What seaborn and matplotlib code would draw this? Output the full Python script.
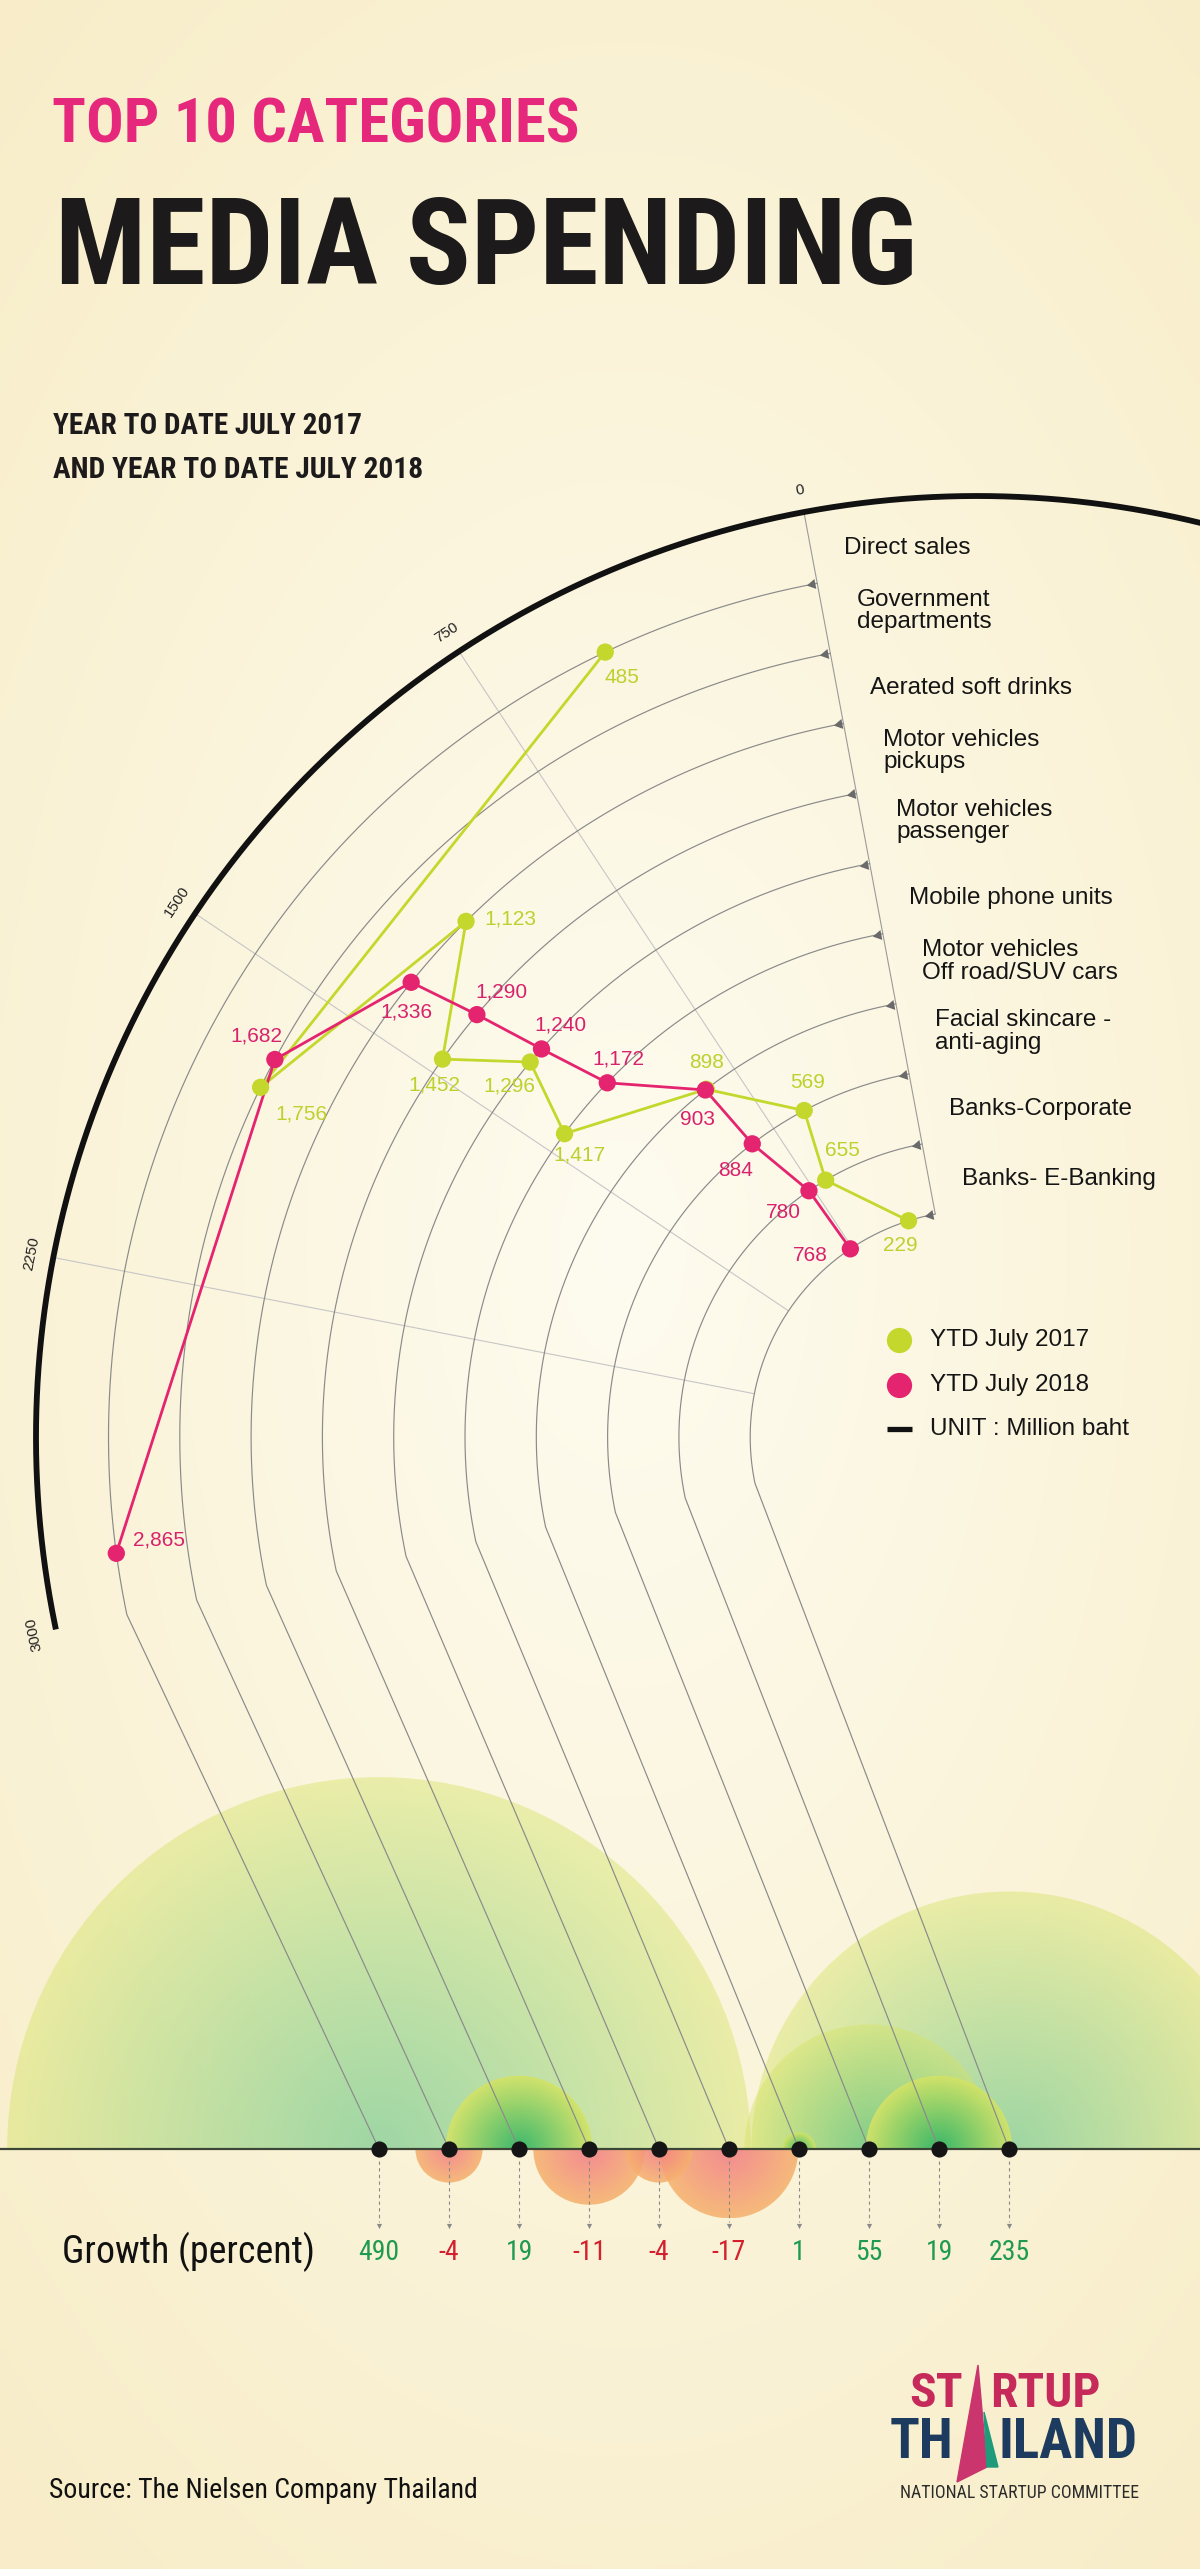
import numpy as np
import pandas as pd
import matplotlib
matplotlib.use("Agg")
import matplotlib.pyplot as plt
import seaborn as sns
from matplotlib.colors import to_rgb
from matplotlib.patches import Polygon, Wedge

# ---- data: media spending, million baht ----
categories = [
    "Direct sales",
    "Government\ndepartments",
    "Aerated soft drinks",
    "Motor vehicles\npickups",
    "Motor vehicles\npassenger",
    "Mobile phone units",
    "Motor vehicles\nOff road/SUV cars",
    "Facial skincare -\nanti-aging",
    "Banks-Corporate",
    "Banks- E-Banking",
]
ytd_2017 = [485, 1756, 1123, 1452, 1296, 1417, 898, 569, 655, 229]
ytd_2018 = [2865, 1682, 1336, 1290, 1240, 1172, 903, 884, 780, 768]
growth = [490, -4, 19, -11, -4, -17, 1, 55, 19, 235]
value_ticks = [0, 750, 1500, 2250, 3000]
series = ["YTD July 2017", "YTD July 2018"]

# ---- layout in pixels (y counted upward) ----
W, H = 1200, 2569
CX, CY = 977, H - 1437
R_OUTER, R_STEP, R_AXIS = 868.5, 71.3, 941
THETA0, THETA_SPAN, VMAX = 100.6, 91.2, 3000
BASE_Y = H - 2149
DOT_X0, DOT_STEP = 379, 70
BUBBLE_K = 16.8

GREEN, PINK = "#c4d72c", "#e5246f"
GREEN_TXT, PINK_TXT = "#bcd12e", "#d8226c"
POS_TXT, NEG_TXT = "#1f9a52", "#d3202f"

# label offsets (px, x right / y up) from each point
off_2017 = [(17, -25), (41, -27), (44, 2), (-8, -26), (-21, -24),
            (15, -21), (0, 27), (3, 28), (17, 30), (-8, -25)]
off_2018 = [(43, 13), (-18, 23), (-5, -30), (25, 23), (19, 24),
            (11, 24), (-8, -30), (-17, -27), (-26, -22), (-40, -7)]


def track_r(i):
    return R_OUTER - np.asarray(i, float) * R_STEP


def angle(v):
    return np.radians(THETA0 + THETA_SPAN * np.asarray(v, float) / VMAX)


def to_xy(v, r):
    a = angle(v)
    return CX + r * np.cos(a), CY + r * np.sin(a)


sns.set_style("white")
plt.rcParams["font.family"] = ["Liberation Sans", "DejaVu Sans"]
NARROW = ["Liberation Sans Narrow", "Roboto Condensed", "DejaVu Sans"]

fig = plt.figure(figsize=(W / 100, H / 100), dpi=100)
ax = fig.add_axes([0, 0, 1, 1])
renderer = fig.canvas.get_renderer()


def fit_width(t, width):
    w = t.get_window_extent(renderer).width
    t.set_fontsize(t.get_fontsize() * width / w)
    return t.get_fontsize()


# background: soft cream glow
gy, gx = np.mgrid[0:H:6, 0:W:6]
d = np.clip(np.hypot((gx - 620) / 950, (gy - (H - 1250)) / 1650), 0, 1)[..., None]
bg = np.array(to_rgb("#fefcf0")) * (1 - d) + np.array(to_rgb("#f8edc8")) * d
ax.imshow(bg, extent=[0, W, 0, H], origin="lower", aspect="auto", zorder=0,
          interpolation="bilinear")

# ---- titles ----
t = ax.text(52, H - 125, "TOP 10 CATEGORIES", color="#e6287c", family=NARROW,
            weight="bold", va="center", ha="left", fontsize=40)
fit_width(t, 526)
t = ax.text(55, H - 251, "MEDIA SPENDING", color="#1c1a1a", family=NARROW,
            weight="bold", va="center", ha="left", fontsize=60)
fit_width(t, 863)
t = ax.text(53, H - 426, "YEAR TO DATE JULY 2017", color="#1c1a1a", family=NARROW,
            weight="bold", va="center", ha="left", fontsize=20)
fs = fit_width(t, 308)
t = ax.text(53, H - 470, "AND YEAR TO DATE JULY 2018", color="#1c1a1a", family=NARROW,
            weight="bold", va="center", ha="left", fontsize=fs)
fit_width(t, 371)

# ---- growth bubbles (radius ~ sqrt of growth) ----
def bubble(xc, g):
    r = BUBBLE_K * np.sqrt(abs(g))
    up = g > 0
    if up:
        c_in, c_out = to_rgb("#2db466"), to_rgb("#d6e466")
        alpha = 0.9 if g < 50 else 0.45
    else:
        c_in, c_out = to_rgb("#f37c88"), to_rgb("#f6b26e")
        alpha = 0.88
    n = 160
    ys = np.linspace(0, r, n) if up else np.linspace(-r, 0, n)
    xs = np.linspace(-r, r, 2 * n)
    X, Y = np.meshgrid(xs, ys)
    dd = np.clip(np.hypot(X, Y) / r, 0, 1)[..., None]
    rgb = np.array(c_in) * (1 - dd) + np.array(c_out) * dd
    img = np.dstack([rgb, np.full(dd.shape[:2], alpha)])
    ext = [xc - r, xc + r, BASE_Y, BASE_Y + r] if up else [xc - r, xc + r, BASE_Y - r, BASE_Y]
    im = ax.imshow(img, extent=ext, origin="lower", aspect="auto", zorder=1,
                   interpolation="bilinear")
    wedge = Wedge((xc, BASE_Y), r, 0 if up else 180, 180 if up else 360,
                  transform=ax.transData)
    im.set_clip_path(wedge)


dot_x = [DOT_X0 + i * DOT_STEP for i in range(len(categories))]
for i in sorted(range(len(growth)), key=lambda k: -abs(growth[k])):
    bubble(dot_x[i], growth[i])

# ---- radial grid ----
for v in value_ticks[:-1]:
    x, y = to_xy([v, v], [track_r(9), R_AXIS])
    ax.plot(x, y, color="#9a9a9a" if v == 0 else "#c6c6c6", lw=0.8, zorder=2)

# value axis arc
a = np.radians(np.linspace(75.5, THETA0 + THETA_SPAN, 400))
ax.plot(CX + R_AXIS * np.cos(a), CY + R_AXIS * np.sin(a), color="#111111",
        lw=4.2, solid_capstyle="butt", zorder=4)
for v in value_ticks:
    x, y = to_xy(v, R_AXIS + 22)
    ax.text(x, y, str(v), rotation=THETA0 + THETA_SPAN * v / VMAX - 90,
            rotation_mode="anchor", ha="center", va="center", fontsize=11,
            color="#222222", zorder=4)

# category tracks: arc from 0 to 3000 then a lead line down to the growth dot
vv = np.linspace(0, VMAX, 300)
for i in range(len(categories)):
    x, y = to_xy(vv, track_r(i))
    ax.plot(np.append(x, dot_x[i]), np.append(y, BASE_Y), color="#8a8a8a",
            lw=0.85, zorder=3)
    # small arrow head at the start of each track
    a0 = angle(0)
    px, py = to_xy(0, track_r(i))
    ax.scatter(px - 5 * np.sin(a0), py + 5 * np.cos(a0), marker=(3, 0, THETA0),
               s=70, color="#6a6a6a", linewidths=0, zorder=4)
    # category label
    lx, ly = to_xy(0, track_r(i) + 36)
    ax.text(lx + 33, ly + (7 if "\n" in categories[i] else 0), categories[i],
            ha="left", va="center", fontsize=17.5, linespacing=1.02,
            color="#151515", zorder=4)

# ---- the two series ----
df = pd.DataFrame({
    "track": list(range(10)) * 2,
    "series": [series[0]] * 10 + [series[1]] * 10,
    "value": ytd_2017 + ytd_2018,
})
df["x"], df["y"] = to_xy(df["value"], track_r(df["track"]))
pal = {series[0]: GREEN, series[1]: PINK}

sns.lineplot(data=df, x="x", y="y", hue="series", hue_order=series, palette=pal,
             sort=False, estimator=None, legend=False, lw=2.0, ax=ax, zorder=5)
sns.scatterplot(data=df, x="x", y="y", hue="series", hue_order=series, palette=pal,
                s=155, linewidth=0, legend=False, ax=ax, zorder=6)

offsets = off_2017 + off_2018
for k, row in df.iterrows():
    dx, dy = offsets[k]
    col = GREEN_TXT if row["series"] == series[0] else PINK_TXT
    ax.text(row["x"] + dx, row["y"] + dy, f"{int(row['value']):,}", color=col,
            fontsize=15, ha="center", va="center", zorder=7)

# legend
ax.scatter([899], [H - 1340], s=330, color=GREEN, linewidths=0, zorder=6)
ax.scatter([899], [H - 1385], s=330, color=PINK, linewidths=0, zorder=6)
ax.plot([887, 912], [H - 1429] * 2, color="#111111", lw=3.8, solid_capstyle="butt")
for yy, txt in [(1340, series[0]), (1385, series[1]), (1429, "UNIT : Million baht")]:
    ax.text(930, H - yy, txt, fontsize=17.5, va="center", ha="left", color="#151515")

# ---- growth row ----
ax.axhline(BASE_Y, color="#3c4636", lw=1.6, zorder=8)
sns.scatterplot(x=dot_x, y=[BASE_Y] * len(dot_x), color="#151515", s=135,
                linewidth=0, ax=ax, zorder=9)
t = ax.text(0, 0, "490", family=NARROW, fontsize=20)
gfs = fit_width(t, 41)
t.remove()
for x, g in zip(dot_x, growth):
    ax.plot([x, x], [BASE_Y - 12, H - 2222], color="#8a8a8a", lw=0.8,
            ls=(0, (3, 3)), zorder=2)
    ax.scatter([x], [H - 2226], marker="v", s=14, color="#8a8a8a", linewidths=0, zorder=2)
    ax.text(x, H - 2252, f"{g}", color=POS_TXT if g > 0 else NEG_TXT, family=NARROW,
            fontsize=gfs, ha="center", va="center", zorder=9)
t = ax.text(62, H - 2252, "Growth (percent)", family=NARROW, fontsize=24,
            ha="left", va="center", color="#111111")
fit_width(t, 253)

t = ax.text(49, H - 2490, "Source: The Nielsen Company Thailand", family=NARROW,
            fontsize=20, ha="left", va="center", color="#111111")
fit_width(t, 430)

# ---- logo ----
ax.add_patch(Polygon([(978, H - 2365), (957, H - 2482), (987, H - 2467)],
                     closed=True, color="#cb356d", zorder=5))
ax.add_patch(Polygon([(984, H - 2412), (998, H - 2467), (987, H - 2467)],
                     closed=True, color="#1f9a7a", zorder=5))
t = ax.text(990, H - 2394, "RTUP", color="#c62a5b", family=NARROW, weight="bold",
            ha="left", va="center", fontsize=30)
fs = fit_width(t, 110)
ax.text(963, H - 2394, "ST", color="#c62a5b", family=NARROW, weight="bold",
        ha="right", va="center", fontsize=fs)
t = ax.text(998, H - 2443, "ILAND", color="#1d3b5e", family=NARROW, weight="bold",
            ha="left", va="center", fontsize=36)
fs = fit_width(t, 139)
ax.text(953, H - 2443, "TH", color="#1d3b5e", family=NARROW, weight="bold",
        ha="right", va="center", fontsize=fs)
t = ax.text(900, H - 2493, "NATIONAL STARTUP COMMITTEE", color="#2b2b2b",
            family=NARROW, ha="left", va="center", fontsize=10)
fit_width(t, 238)

ax.set_xlim(0, W)
ax.set_ylim(0, H)
ax.axis("off")
fig.savefig("out.png", dpi=100)
